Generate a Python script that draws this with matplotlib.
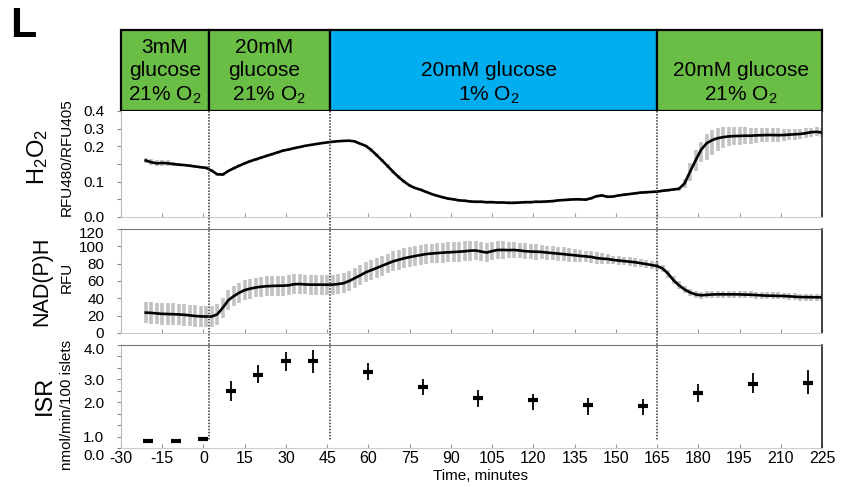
import numpy as np
import matplotlib.pyplot as plt
import matplotlib.transforms as mtransforms
from matplotlib.lines import Line2D

plt.rcParams['font.family'] = ['Liberation Sans', 'DejaVu Sans']
plt.rcParams['mathtext.fontset'] = 'custom'
plt.rcParams['mathtext.rm'] = 'Liberation Sans'
plt.rcParams['mathtext.it'] = 'Liberation Sans:italic'

# [DATA] ======================================================================
phase_edges = [-30, 2, 46, 165, 225]
phase_colors = ['#6abd45', '#6abd45', '#00aeef', '#6abd45']
phase_labels = ['3mM\nglucose\n21% O$_\\mathregular{2}$',
                '20mM\nglucose\n  21% O$_\\mathregular{2}$',
                '20mM glucose\n1% O$_\\mathregular{2}$',
                '20mM glucose\n21% O$_\\mathregular{2}$']
phase_label_x = [-14, 22, 104, 195.5]
change_times = [2, 46, 165]

# continuous traces, one reading every 2 min from -21 to 225
trace_time = np.arange(-21, 226, 2)

h2o2_mean = [
    0.160, 0.155, 0.152, 0.153, 0.152, 0.150, 0.148, 0.147, 0.145, 0.143,   # -21..-3
    0.141, 0.139, 0.131, 0.121, 0.120, 0.130, 0.138, 0.145, 0.152, 0.158,   # -1..17
    0.163, 0.168, 0.173, 0.178, 0.183, 0.188, 0.191, 0.195, 0.198, 0.203,   # 19..37
    0.208, 0.213, 0.218, 0.222, 0.226, 0.229, 0.231, 0.232, 0.228, 0.215,   # 39..57
    0.203, 0.190, 0.175, 0.160, 0.144, 0.128, 0.113, 0.100, 0.089, 0.082,   # 59..77
    0.077, 0.071, 0.065, 0.060, 0.056, 0.052, 0.050, 0.047, 0.046, 0.044,   # 79..97
    0.043, 0.043, 0.042, 0.042, 0.041, 0.041, 0.040, 0.040, 0.041, 0.042,   # 99..117
    0.042, 0.043, 0.043, 0.044, 0.045, 0.047, 0.048, 0.049, 0.050, 0.050,   # 119..137
    0.049, 0.053, 0.059, 0.061, 0.057, 0.058, 0.061, 0.063, 0.065, 0.067,   # 139..157
    0.069, 0.070, 0.071, 0.072, 0.074, 0.076, 0.078, 0.080, 0.095, 0.128,   # 159..177
    0.160, 0.190, 0.217, 0.235, 0.246, 0.252, 0.256, 0.258, 0.259, 0.260,   # 179..197
    0.260, 0.262, 0.263, 0.264, 0.264, 0.263, 0.264, 0.266, 0.268, 0.270,   # 199..217
    0.274, 0.280, 0.282, 0.278]                                             # 219..225
h2o2_err = [
    0.008, 0.008, 0.008, 0.008, 0.008, 0.005, 0.005, 0.004, 0.004, 0.004,
    0.004, 0.004, 0.004, 0.004, 0.004, 0.004, 0.004, 0.004, 0.004, 0.004,
    0.004, 0.004, 0.004, 0.004, 0.004, 0.004, 0.004, 0.004, 0.004, 0.004,
    0.004, 0.004, 0.004, 0.004, 0.004, 0.004, 0.004, 0.004, 0.004, 0.005,
    0.005, 0.005, 0.005, 0.005, 0.005, 0.005, 0.005, 0.004, 0.004, 0.004,
    0.004, 0.004, 0.004, 0.004, 0.004, 0.004, 0.004, 0.004, 0.004, 0.004,
    0.004, 0.004, 0.004, 0.004, 0.004, 0.004, 0.004, 0.004, 0.004, 0.004,
    0.004, 0.004, 0.004, 0.004, 0.004, 0.004, 0.004, 0.004, 0.004, 0.004,
    0.004, 0.004, 0.004, 0.004, 0.004, 0.004, 0.004, 0.004, 0.004, 0.004,
    0.004, 0.004, 0.004, 0.004, 0.004, 0.004, 0.004, 0.005, 0.012, 0.025,
    0.030, 0.035, 0.055, 0.060, 0.060, 0.058, 0.052, 0.050, 0.050, 0.048,
    0.045, 0.042, 0.040, 0.040, 0.040, 0.038, 0.035, 0.032, 0.030, 0.030,
    0.028, 0.026, 0.025, 0.025]

nadh_mean = [
    23.5, 23.2, 22.6, 22.1, 21.9, 21.7, 21.4, 21.0, 20.3, 19.6,   # -21..-3
    19.2, 19.0, 19.0, 21.5, 29.0, 37.7, 42.5, 46.5, 49.5, 51.2,   # -1..17
    52.5, 53.4, 54.0, 54.3, 54.5, 54.6, 55.0, 56.3, 56.5, 56.0,   # 19..37
    55.8, 55.8, 55.8, 55.7, 55.8, 56.5, 57.5, 60.0, 63.3, 66.5,   # 39..57
    70.0, 72.5, 75.0, 77.6, 80.2, 82.7, 84.5, 86.2, 87.6, 88.8,   # 59..77
    90.0, 91.1, 91.7, 92.2, 92.7, 93.1, 93.4, 93.8, 94.3, 95.0,   # 79..97
    95.2, 94.0, 92.8, 94.5, 95.8, 95.8, 95.6, 95.8, 95.2, 94.4,   # 99..117
    94.0, 93.8, 93.5, 92.8, 92.2, 91.6, 91.0, 90.3, 89.7, 89.0,   # 119..137
    88.4, 87.8, 86.5, 85.8, 85.4, 84.3, 83.6, 83.0, 82.3, 81.6,   # 139..157
    80.6, 79.6, 78.4, 77.3, 74.5, 68.5, 60.8, 55.0, 50.2, 46.8,   # 159..177
    44.5, 43.5, 44.0, 44.4, 44.6, 44.6, 44.6, 44.6, 44.5, 44.3,   # 179..197
    44.2, 43.8, 43.4, 43.1, 43.0, 42.8, 42.7, 42.3, 41.9, 41.5,   # 199..217
    41.4, 41.3, 41.2, 41.2]                                       # 219..225
nadh_err = [
    12.5, 12.5, 12.5, 12.5, 12.5, 12.5, 12.5, 12.5, 12.5, 12.5,
    12.5, 12.5, 12.5, 12.5, 11.5, 11.5, 11.5, 11.5, 11.5, 11.5,
    11.5, 11.5, 11.5, 11.5, 11.5, 11.5, 11.5, 11.5, 11.5, 11.5,
    11.5, 11.5, 11.5, 11.5, 11.5, 11.5, 11.5, 11.5, 11.5, 11.5,
    11.5, 11.5, 11.5, 11.5, 11.5, 11.5, 11.5, 11.5, 11.5, 11.5,
    11.5, 11.5, 11.5, 11.5, 11.5, 11.5, 11.5, 11.5, 11.5, 11.5,
    11.0, 10.5, 10.5, 10.5, 10.5, 10.5, 9.5, 9.0, 9.0, 9.0,
    9.0, 9.0, 8.5, 8.0, 8.0, 8.0, 8.0, 8.0, 7.5, 6.5,
    6.5, 6.5, 6.5, 6.0, 5.5, 5.0, 5.0, 5.0, 5.0, 5.0,
    5.0, 5.0, 5.0, 5.0, 4.5, 4.5, 4.5, 4.5, 4.5, 4.0,
    4.0, 4.0, 4.0, 4.0, 4.0, 4.0, 4.0, 4.0, 4.0, 4.0,
    4.0, 4.0, 4.0, 4.0, 4.0, 4.0, 4.0, 4.0, 4.0, 4.0,
    4.0, 4.0, 4.0, 4.0]

isr_time = [-20, -10, 0, 10, 20, 30, 40, 60, 80, 100, 120, 140, 160, 180, 200, 220]
isr_mean = [0.58, 0.58, 0.81, 2.48, 3.13, 3.52, 3.52, 3.21, 2.66, 2.20, 2.08, 1.92,
            1.88, 2.41, 2.80, 2.83]
isr_err = [0.02, 0.02, 0.02, 0.44, 0.29, 0.28, 0.34, 0.26, 0.35, 0.33, 0.30, 0.28,
           0.26, 0.38, 0.38, 0.45]

time_ticks = np.arange(-30, 226, 15)

# the y axes of H2O2 and ISR are drawn with unevenly spaced labels
h2o2_label_vals = [0.0, 0.1, 0.2, 0.3, 0.4]
h2o2_label_pos = [0, 2, 4, 5, 6]
isr_label_vals = [0.0, 1.0, 2.0, 3.0, 4.0]
isr_label_pos = [0, 1, 4, 6, 9]
# [END DATA] ==================================================================


def piecewise(vals, pos):
    return (lambda v: np.interp(v, vals, pos), lambda p: np.interp(p, pos, vals))


W, H = 847, 487
fig = plt.figure(figsize=(W / 100, H / 100), dpi=100)


def px_axes(top, bottom):
    return fig.add_axes([121 / W, 1 - bottom / H, 701 / W, (bottom - top) / H])


def nudge_down(label, px):
    label.set_transform(label.get_transform() +
                        mtransforms.ScaledTranslation(0, -px / 100, fig.dpi_scale_trans))


GREY = '#c2c2c2'

# [BANNER] ====================================================================
ax_top = px_axes(30, 111)
ax_top.set_xlim(-30, 225)
ax_top.set_ylim(0, 1)
ax_top.axis('off')
for i in range(len(phase_colors)):
    ax_top.axvspan(phase_edges[i], phase_edges[i + 1], color=phase_colors[i],
                   ec='black', lw=1.6, clip_on=False)
    ax_top.text(phase_label_x[i], 0.125, phase_labels[i], fontsize=15,
                ha='center', va='baseline', multialignment='center',
                linespacing=1.28)

# [H2O2] ======================================================================
ax_h = px_axes(111, 217)
ax_h.set_yscale('function', functions=piecewise(h2o2_label_vals, h2o2_label_pos))
ax_h.errorbar(trace_time, h2o2_mean, yerr=h2o2_err, fmt='none', ecolor=GREY,
              elinewidth=2.6)
ax_h.plot(trace_time, h2o2_mean, color='black', lw=1.9)
ax_h.set_ylim(0, 0.4)
ax_h.set_yticks([0, 0.05, 0.1, 0.15, 0.2, 0.3, 0.4])
ax_h.set_yticklabels(['0.0', '', '0.1', '', '0.2', '0.3', '0.4'])

# [NAD(P)H] ===================================================================
ax_n = px_axes(229, 333)
ax_n.errorbar(trace_time, nadh_mean, yerr=nadh_err, fmt='none', ecolor=GREY,
              elinewidth=2.6)
ax_n.plot(trace_time, nadh_mean, color='black', lw=1.9)
ax_n.set_ylim(0, 120)
ax_n.set_yticks(np.arange(0, 121, 20))

# [ISR] =======================================================================
ax_i = px_axes(345, 448)
fwd_i, inv_i = piecewise(isr_label_vals, isr_label_pos)
ax_i.set_yscale('function', functions=(fwd_i, inv_i))
ax_i.errorbar(isr_time, isr_mean, yerr=isr_err, fmt='none', ecolor='black',
              elinewidth=1.3)
ax_i.plot(isr_time, isr_mean, ls='none', marker='_', ms=6.5, mew=3.0, color='black')
ax_i.set_ylim(0, 4)
isr_ticks = inv_i(np.arange(10))
ax_i.set_yticks(isr_ticks)
ax_i.set_yticklabels(['0.0', '1.0', '', '', '2.0', '', '3.0', '', '', '4.0'])

for ax in (ax_h, ax_n, ax_i):
    ax.set_xlim(-30, 225)
    ax.set_xticks(time_ticks)
    ax.tick_params(axis='y', direction='out', length=3, width=0.8, color='#888888',
                   labelsize=11, pad=9)
    ax.tick_params(axis='x', direction='in', length=3, width=0.8, color='#999999',
                   labelsize=11.5, pad=2)
    ax.spines['left'].set_color('#bbbbbb')
    ax.spines['bottom'].set_color('#cccccc')
    ax.spines['right'].set_color('#222222')
    ax.spines['right'].set_linewidth(1.2)
    ax.spines['top'].set_color('#777777')
ax_h.spines['top'].set_visible(False)
ax_h.tick_params(axis='x', labelbottom=False)
ax_n.tick_params(axis='x', labelbottom=False)
ax_i.set_xticklabels([str(t) for t in time_ticks])

# some labels sit a little low in the original, clear of their neighbours
nudge_down(ax_i.get_yticklabels()[0], 6)
nudge_down(ax_i.get_yticklabels()[-1], 3)
nudge_down(ax_n.get_yticklabels()[-1], 3)

# dotted lines at the medium changes, running through all panels
trans = mtransforms.blended_transform_factory(ax_i.transData, fig.transFigure)
for t in change_times:
    fig.add_artist(Line2D([t, t], [1 - 111 / H, 1 - 440 / H], transform=trans,
                          ls=(0, (1, 1)), color='#333333', lw=1.1))

# axis titles
def px_text(x, y, s, size, **kw):
    fig.text(x / W, 1 - y / H, s, fontsize=size, ha='center', va='center', **kw)


px_text(38, 157, 'H$_\\mathregular{2}$O$_\\mathregular{2}$', 17, rotation=90)
px_text(67, 157, 'RFU480/RFU405', 11, rotation=90)
px_text(42, 281, 'NAD(P)H', 15.5, rotation=90)
px_text(67, 277, 'RFU', 11, rotation=90)
px_text(45, 395, 'ISR', 17, rotation=90)
px_text(67, 405, 'nmol/min/100 islets', 11, rotation=90)
px_text(480, 476, 'Time, minutes', 11)
fig.text(10 / W, 1 - 6 / H, 'L', fontsize=31, fontweight='bold', ha='left', va='top')

fig.savefig('out.png', dpi=100)
